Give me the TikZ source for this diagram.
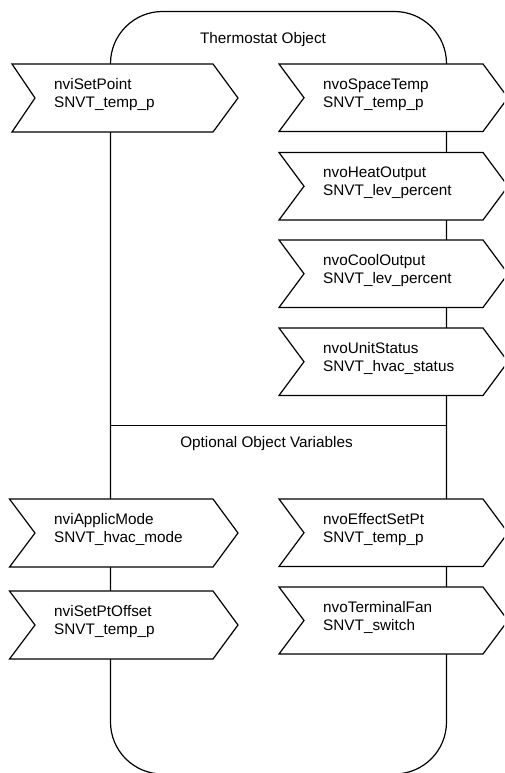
\documentclass[tikz,border=0pt]{standalone}
\usepackage{fontspec}
\setmainfont{Liberation Sans}
\newfontfamily\lbfamily{Liberation Sans}
\newcommand\lbfont{\lbfamily\fontsize{15.3}{18}\selectfont}
\tikzset{
  objshape/.style={draw, line width=1.2pt, rounded corners=52pt},
  chevshape/.style={draw, fill=white, line width=1.2pt, line join=miter},
  lbl/.style={inner sep=0pt, anchor=north west, align=left, font=\lbfont},
  ttl/.style={inner sep=0pt, anchor=base, font=\lbfont},
}
% #1 name, #2 left x, #3 notch x, #4 body right x, #5 top y, #6 height, #7 text x, #8 line 1, #9 line 2
\newcommand\chevbox[9]{%
  \draw[chevshape] (#2,#5) -- (#4,#5) -- ({#4+25},{#5+#6/2}) -- (#4,{#5+#6})
    -- (#2,{#5+#6}) -- (#3,{#5+#6/2}) -- cycle;
  \node[lbl] (#1) at (#7,{#5+12.4}) {\strut #8\\#9};
}
\begin{document}
\begin{tikzpicture}[x=1pt,y=-1pt]
  \useasboundingbox (0,0) rectangle (504,773);
  \clip (0,0) rectangle (504,773);
  % object outline
  \draw[objshape] (110.5,11.5) rectangle (446.5,774);
  \coordinate (optL) at (110.5,425.7);
  \coordinate (optR) at (446.5,425.7);
  \draw[line width=1.2pt] (optL) -- (optR);
  \node[ttl] (title) at (263,44) {Thermostat Object};
  \node[ttl] (opt) at (266.5,447.5) {Optional Object Variables};
  % left side
  \chevbox{setpoint}{12}{35}{213}{64}{68}{54}{nviSetPoint}{SNVT\_temp\_p}
  \chevbox{applic}{9.5}{35}{213}{499}{68}{54}{nviApplicMode}{SNVT\_hvac\_mode}
  \chevbox{offset}{9.5}{35}{213}{591}{68}{54}{nviSetPtOffset}{SNVT\_temp\_p}
  % right side
  \chevbox{space}{279}{304}{483}{64}{67.5}{323}{nvoSpaceTemp}{SNVT\_temp\_p}
  \chevbox{heat}{279}{304}{483}{152.5}{67.5}{323}{nvoHeatOutput}{SNVT\_lev\_percent}
  \chevbox{cool}{279}{304}{483}{240}{67.5}{323}{nvoCoolOutput}{SNVT\_lev\_percent}
  \chevbox{unit}{279}{304}{483}{328}{67.5}{323}{nvoUnitStatus}{SNVT\_hvac\_status}
  \chevbox{effect}{279}{304}{483}{499}{67.5}{323}{nvoEffectSetPt}{SNVT\_temp\_p}
  \chevbox{fan}{279}{304}{483}{587}{67}{323}{nvoTerminalFan}{SNVT\_switch}
\end{tikzpicture}
\end{document}
